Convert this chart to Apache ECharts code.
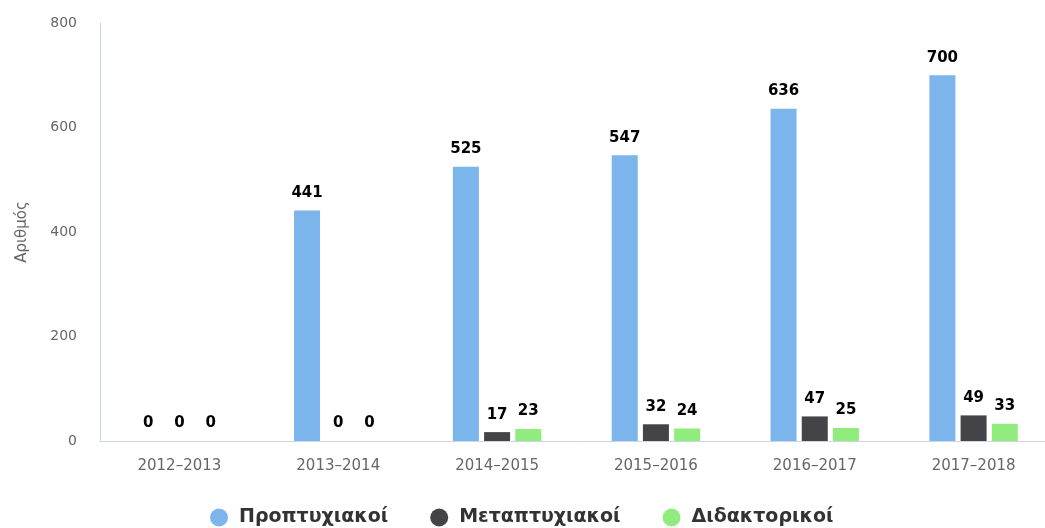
<!DOCTYPE html>
<html>
<head>
<meta charset="utf-8">
<script src="https://cdn.jsdelivr.net/npm/echarts@6/dist/echarts.min.js"></script>
<style>
html,body{margin:0;padding:0;background:#fff;overflow:hidden;width:1045px;height:528px;}
#chart{width:1053px;height:528px;}
</style>
</head>
<body>
<div id="chart"></div>
<script>
var categories = ['2012-2013','2013-2014','2014-2015','2015-2016','2016-2017','2017-2018'];
var seriesNames = ['Προπτυχιακοί','Μεταπτυχιακοί','Διδακτορικοί'];
var undergrad = [0, 441, 525, 547, 636, 700];
var postgrad = [0, 0, 17, 32, 47, 49];
var doctoral = [0, 0, 23, 24, 25, 33];
var yTicks = [0, 200, 400, 600, 800];
var colors = ['#7cb5ec', '#434348', '#90ed7d'];

var chart = echarts.init(document.getElementById('chart'));
var font = 'DejaVu Sans';
function mk(name, data, color) {
  return {
    name: name, type: 'bar', data: data,
    barWidth: 26, barGap: '20%',
    itemStyle: {color: color},
    label: {show: true, position: 'top', distance: 10, color: '#000', fontWeight: 'bold',
      fontFamily: font, fontSize: 15}
  };
}
chart.setOption({
  animation: false,
  color: colors,
  grid: {left: 100, right: 0, top: 23, height: 418, containLabel: false},
  legend: {
    top: 503, left: 205, icon: 'circle', itemWidth: 18, itemHeight: 18, itemGap: 42,
    textStyle: {fontFamily: font, fontSize: 19, fontWeight: 'bold', color: '#333', padding: [0,0,0,6]},
    data: seriesNames
  },
  xAxis: {
    type: 'category', data: categories,
    axisLine: {lineStyle: {color: '#ccd6eb'}},
    axisTick: {length: 14, lineStyle: {color: '#ccd6eb'}},
    axisLabel: {color: '#666', fontFamily: font, fontSize: 15, margin: 18,
      formatter: function(v){ return v.replace('-', '\u2013'); }}
  },
  yAxis: {
    type: 'value', min: yTicks[0], max: yTicks[yTicks.length-1], interval: 200,
    name: 'Αριθμός', nameLocation: 'middle', nameGap: 70, nameRotate: 90,
    nameTextStyle: {color: '#666', fontFamily: font, fontSize: 15},
    axisLine: {show: true, lineStyle: {color: '#ccd6eb'}},
    axisTick: {show: false},
    splitLine: {show: false},
    axisLabel: {color: '#666', fontFamily: font, fontSize: 14, margin: 23}
  },
  series: [mk(seriesNames[0], undergrad, colors[0]), mk(seriesNames[1], postgrad, colors[1]), mk(seriesNames[2], doctoral, colors[2])]
});
</script>
</body>
</html>
